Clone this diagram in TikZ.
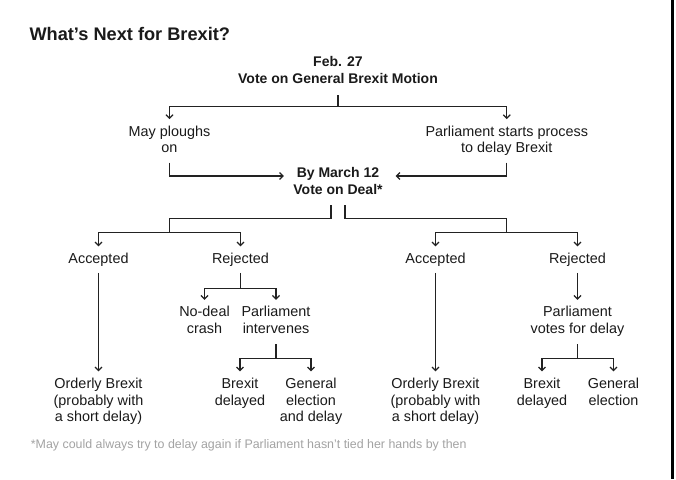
\documentclass[tikz,border=0pt]{standalone}
\usepackage{fontspec}
\setmainfont{Liberation Sans}
\usetikzlibrary{arrows.meta}
\definecolor{txt}{HTML}{1A1A1A}
\definecolor{lc}{HTML}{222222}
\definecolor{fn}{HTML}{A3A3A3}
\begin{document}
\begin{tikzpicture}[x=1pt,y=-1pt,
  lbl/.style={font=\fontsize{14.4}{16.7}\selectfont, text=txt, align=center, anchor=base, inner sep=0pt, outer ysep=6.5pt, outer xsep=0pt},
  blbl/.style={lbl, font=\bfseries\fontsize{14}{16.6}\selectfont},
  ln/.style={draw=lc, line width=1.2pt},
  arr/.style={ln, -{Straight Barb[length=3.5pt,width=7pt]}}]
\fill[white] (0,0) rectangle (676,479);
\useasboundingbox (0,0) rectangle (676,479);
% nodes are placed at the baseline of their last line
\node[anchor=base west, inner sep=0pt, font=\bfseries\fontsize{18.2}{20}\selectfont, text=txt] (title) at (29.3,40.7) {What’s Next for Brexit?};
\node[blbl] (feb) at (338,83.3) {Feb. 27\\Vote on General Brexit Motion};
\node[lbl] (may) at (169.5,152.7) {May ploughs\\on};
\node[lbl] (pdel) at (506.8,152.7) {Parliament starts process\\to delay Brexit};
\node[blbl] (deal) at (338,194.3) {By March 12\\Vote on Deal*};
\node[lbl] (accL) at (98.5,263.3) {Accepted};
\node[lbl] (rejL) at (240.5,263.3) {Rejected};
\node[lbl] (accR) at (435.5,263.3) {Accepted};
\node[lbl] (rejR) at (577.5,263.3) {Rejected};
\node[lbl] (nodeal) at (204.5,333.4) {No-deal\\crash};
\node[lbl] (interv) at (276,333.4) {Parliament\\intervenes};
\node[lbl] (pvote) at (577.5,333.4) {Parliament\\votes for delay};
\node[lbl] (ordL) at (98.5,421.7) {Orderly Brexit\\(probably with\\a short delay)};
\node[lbl] (bdL) at (240,405) {Brexit\\delayed};
\node[lbl] (geL) at (311,421.7) {General\\election\\and delay};
\node[lbl] (ordR) at (435.5,421.7) {Orderly Brexit\\(probably with\\a short delay)};
\node[lbl] (bdR) at (542,405) {Brexit\\delayed};
\node[lbl] (geR) at (613.5,405) {General\\election};
\node[anchor=base west, inner sep=0pt, font=\fontsize{12.4}{14}\selectfont, text=fn] (note) at (30.7,448.3) {*May could always try to delay again if Parliament hasn’t tied her hands by then};
% connectors
\coordinate (s1) at (338,95);
\coordinate (j1) at (338,106.7);
\draw[ln] (s1) -- (j1);
\draw[arr] (j1) -| (may.north);
\draw[arr] (j1) -| (pdel.north);
\coordinate (s2) at (169.5,162.7);
\coordinate (s3) at (506.8,162.7);
\draw[arr] (s2) |- ([shift={(-9.5pt,18.3pt)}]deal.base west);
\draw[arr] (s3) |- ([shift={(13pt,18.3pt)}]deal.base east);
\coordinate (dl) at (331,205);
\coordinate (jl) at (169.5,218.3);
\coordinate (hl) at (169.5,232.7);
\draw[ln] (dl) |- (jl) -- (hl);
\draw[arr] (hl) -| (accL.north);
\draw[arr] (hl) -| (rejL.north);
\coordinate (dr) at (345,205);
\coordinate (jr) at (506.5,218.3);
\coordinate (hr) at (506.5,232.7);
\draw[ln] (dr) |- (jr) -- (hr);
\draw[arr] (hr) -| (accR.north);
\draw[arr] (hr) -| (rejR.north);
\draw[arr] (accL.south) -- (ordL.north);
\draw[arr] (accR.south) -- (ordR.north);
\coordinate (hrl) at (240.5,288.3);
\draw[ln] (rejL.south) -- (hrl);
\draw[arr] (hrl) -| (nodeal.north);
\draw[arr] (hrl) -| (interv.north);
\coordinate (si) at (276,344);
\coordinate (hi) at (276,358.3);
\draw[ln] (si) -- (hi);
\draw[arr] (hi) -| (bdL.north);
\draw[arr] (hi) -| (geL.north);
\draw[arr] (rejR.south) -- (pvote.north);
\coordinate (sp) at (577.5,344);
\coordinate (hp) at (577.5,358.3);
\draw[ln] (sp) -- (hp);
\draw[arr] (hp) -| (bdR.north);
\draw[arr] (hp) -| (geR.north);
% right edge rule
\coordinate (e1) at (672,0);
\coordinate (e2) at (672,479);
\draw[line width=3pt, draw=black] (e1) -- (e2);
\end{tikzpicture}
\end{document}
